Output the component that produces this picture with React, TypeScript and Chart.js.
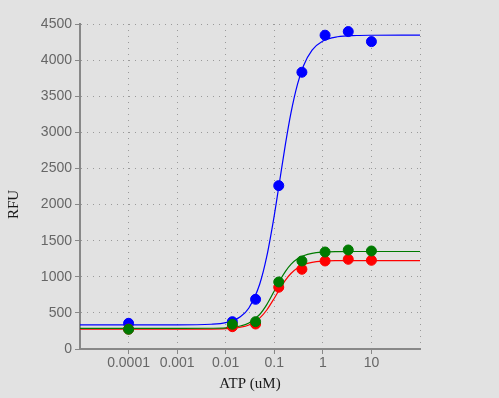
import React, { useEffect, useRef } from 'react';
import { Chart, registerables } from 'chart.js';
Chart.register(...registerables);

// Measured doses (uM); the zero-dose well is plotted at 0.0001
const DOSES = [0.0001, 0.0137, 0.0412, 0.1235, 0.3704, 1.111, 3.333, 10];
const BLUE_POINTS = [356, 378, 688, 2262, 3832, 4345, 4395, 4256];
const GREEN_POINTS = [273, 342, 378, 928, 1219, 1343, 1371, 1357];
const RED_POINTS = [275, 309, 346, 855, 1104, 1219, 1242, 1228];

// Fitted curves at these concentrations
const CURVE_X = [0.00001, 0.0001, 0.001, 0.005, 0.01, 0.02, 0.03, 0.05, 0.07, 0.1, 0.13, 0.17, 0.22, 0.3, 0.4, 0.6, 1, 2, 5, 10, 100];
const BLUE_CURVE = [335, 335, 335, 343, 365, 446, 568, 896, 1281, 1851, 2340, 2840, 3266, 3664, 3921, 4137, 4264, 4323, 4341, 4344, 4345];
const GREEN_CURVE = [285, 285, 285, 287, 293, 318, 360, 478, 615, 804, 948, 1076, 1172, 1249, 1292, 1325, 1341, 1348, 1350, 1350, 1350];
const RED_CURVE = [275, 275, 275, 276, 281, 301, 333, 427, 540, 703, 833, 953, 1045, 1122, 1166, 1199, 1216, 1223, 1225, 1225, 1225];

const X_TICKS = [0.00001, 0.0001, 0.001, 0.01, 0.1, 1, 10, 100];
const X_TICK_LABELS = ['', '0.0001', '0.001', '0.01', '0.1', '1', '10', ''];
const Y_MIN = 0;
const Y_MAX = 4500;
const Y_STEP = 500;

const X_TITLE = 'ATP (uM)';
const Y_TITLE = 'RFU';

const BG = '#e2e2e2';
const BLUE = '#0000ff';
const GREEN = '#007a00';
const RED = '#ff0000';

const pts = (xs: number[], ys: number[]) => xs.map((x, i) => ({ x, y: ys[i] }));

const titlesPlugin = {
  id: 'axisTitles',
  beforeDraw(chart: any) {
    const { ctx } = chart;
    ctx.save();
    ctx.fillStyle = BG;
    ctx.fillRect(0, 0, chart.width, chart.height);
    ctx.restore();
  },
  afterDraw(chart: any) {
    const { ctx, chartArea } = chart;
    ctx.save();
    ctx.font = '15px "Liberation Serif", "Times New Roman", serif';
    ctx.fillStyle = '#1a1a1a';
    ctx.textAlign = 'center';
    ctx.textBaseline = 'middle';
    ctx.fillText(X_TITLE, (chartArea.left + chartArea.right) / 2, chartArea.bottom + 35);
    ctx.translate(14, (chartArea.top + chartArea.bottom) / 2 + 18);
    ctx.rotate(-Math.PI / 2);
    ctx.fillText(Y_TITLE, 0, 0);
    ctx.restore();
  },
};

export default function App() {
  const ref = useRef<HTMLCanvasElement>(null);
  useEffect(() => {
    document.body.style.margin = '0';
    document.body.style.background = BG;
    const tickFont = { family: '"Liberation Sans", Arial, sans-serif', size: 14 };
    const pointDs = (label: string, ys: number[], color: string, order: number) => ({
      label,
      data: pts(DOSES, ys),
      backgroundColor: color,
      borderColor: color,
      borderWidth: 1,
      pointRadius: 5,
      showLine: false,
      order,
    });
    const curveDs = (label: string, ys: number[], color: string, order: number) => ({
      label,
      data: pts(CURVE_X, ys),
      borderColor: color,
      backgroundColor: color,
      borderWidth: 1.2,
      pointRadius: 0,
      showLine: true,
      fill: false,
      cubicInterpolationMode: 'monotone',
      order,
    });
    const chart = new Chart(ref.current!, {
      type: 'scatter',
      data: {
        datasets: [
          pointDs('Blue', BLUE_POINTS, BLUE, 2),
          pointDs('Red', RED_POINTS, RED, 1),
          pointDs('Green', GREEN_POINTS, GREEN, 0),
          curveDs('Blue fit', BLUE_CURVE, BLUE, 12),
          curveDs('Red fit', RED_CURVE, RED, 11),
          curveDs('Green fit', GREEN_CURVE, GREEN, 10),
        ] as any,
      },
      options: {
        responsive: false,
        animation: false,
        layout: { padding: { top: 24, right: 79, left: 0, bottom: 0 } },
        plugins: { legend: { display: false }, tooltip: { enabled: false } },
        scales: {
          x: {
            type: 'logarithmic',
            min: X_TICKS[0],
            max: X_TICKS[X_TICKS.length - 1],
            afterBuildTicks: (s: any) => {
              s.ticks = X_TICKS.map((v) => ({ value: v }));
            },
            afterFit: (s: any) => {
              s.height = 49;
            },
            ticks: {
              font: tickFont,
              color: '#666',
              padding: 1,
              autoSkip: false,
              maxRotation: 0,
              callback: (_v: any, i: number) => X_TICK_LABELS[i],
            },
            grid: {
              color: '#9a9a9a',
              lineWidth: 1,
              tickLength: 5,
              tickColor: (c: any) => (c.index === 0 || c.index === X_TICKS.length - 1 ? 'rgba(0,0,0,0)' : '#888'),
            },
            border: { color: '#888', width: 2, dash: [1, 5] },
            title: { display: false },
          },
          y: {
            min: Y_MIN,
            max: Y_MAX,
            afterFit: (s: any) => {
              s.width = 80;
            },
            ticks: {
              stepSize: Y_STEP,
              font: tickFont,
              color: '#666',
              padding: 3,
              callback: (v: any) => String(v),
            },
            grid: { color: '#9a9a9a', lineWidth: 1, tickLength: 5, tickColor: '#888' },
            border: { color: '#888', width: 2, dash: [1, 5] },
            title: { display: false },
          },
        },
      } as any,
      plugins: [titlesPlugin],
    });
    return () => chart.destroy();
  }, []);
  return (
    <div style={{ width: 499, height: 398, background: BG }}>
      <canvas ref={ref} width={499} height={398} style={{ display: 'block' }} />
    </div>
  );
}
